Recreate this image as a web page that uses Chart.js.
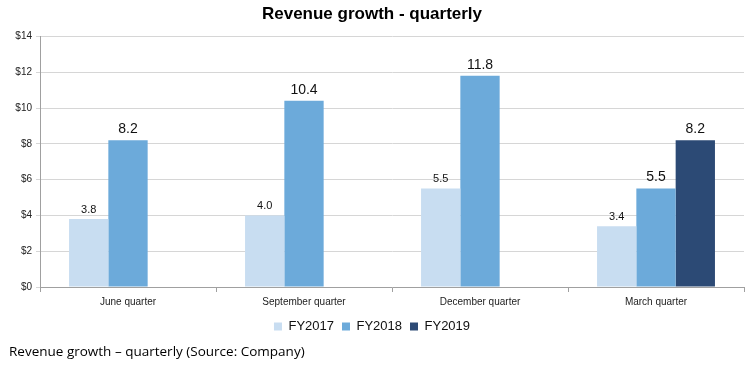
<!DOCTYPE html>
<html><head><meta charset="utf-8">
<script src="https://cdn.jsdelivr.net/npm/chart.js@4"></script>
<style>
html,body{margin:0;padding:0;background:#fff;width:747px;height:368px;overflow:hidden}
#wrap{position:absolute;left:0;top:0;width:747px;height:343px}
#cap{position:absolute;left:9px;top:342px;font-family:"Open Sans","Liberation Sans",sans-serif;font-size:13.5px;color:#000}
</style></head><body>
<div id="wrap"><canvas id="c"></canvas></div>
<div id="cap">Revenue growth – quarterly (Source: Company)</div>
<script>
const categories = ["June quarter","September quarter","December quarter","March quarter"];
const seriesNames = ["FY2017","FY2018","FY2019"];
const fy2017 = [3.8, 4.0, 5.5, 3.4];
const fy2018 = [8.2, 10.4, 11.8, 5.5];
const fy2019 = [null, null, null, 8.2];
const yTicks = [0,2,4,6,8,10,12,14];

const colors = ["#c8ddf1","#6caada","#2c4a75"];
const labelSizes = [11, 14, 14];

const valueLabels = {
  id:'valueLabels',
  afterDatasetsDraw(chart){
    const ctx = chart.ctx;
    chart.data.datasets.forEach((ds,i)=>{
      const meta = chart.getDatasetMeta(i);
      meta.data.forEach((el,j)=>{
        const v = ds.data[j];
        if(v==null) return;
        ctx.save();
        ctx.font = labelSizes[i]+'px "Liberation Sans", Arial, sans-serif';
        ctx.fillStyle = '#111';
        ctx.textAlign='center';
        ctx.textBaseline='bottom';
        ctx.fillText(v.toFixed(1), el.x, el.y-4);
        ctx.restore();
      });
    });
  }
};

new Chart(document.getElementById('c'),{
  type:'bar',
  data:{
    labels:categories,
    datasets:[
      {label:seriesNames[0],data:fy2017,backgroundColor:colors[0]},
      {label:seriesNames[1],data:fy2018,backgroundColor:colors[1]},
      {label:seriesNames[2],data:fy2019,backgroundColor:colors[2]}
    ]
  },
  options:{
    responsive:true,maintainAspectRatio:false,animation:false,
    layout:{padding:{left:0,right:3,top:0,bottom:0}},
    datasets:{bar:{categoryPercentage:0.67,barPercentage:1.0}},
    plugins:{
      title:{display:true,text:"Revenue growth - quarterly",color:'#000',
        font:{family:'"Liberation Sans", Arial, sans-serif',size:17,weight:'bold'},
        padding:{top:4,bottom:12}},
      legend:{position:'bottom',
        labels:{boxWidth:8,boxHeight:8,color:'#111',padding:8,
          font:{family:'"Liberation Sans", Arial, sans-serif',size:13}}},
      tooltip:{enabled:false}
    },
    scales:{
      x:{
        grid:{display:true,drawOnChartArea:false,offset:true,color:'#a0a0a0',tickLength:5},
        border:{color:'#a0a0a0'},
        ticks:{color:'#222',font:{family:'"Liberation Sans", Arial, sans-serif',size:10},padding:4}
      },
      y:{
        min:0,max:14,
        afterBuildTicks(s){s.ticks = yTicks.map(v=>({value:v}));},
        afterFit(s){s.width=40;},
        grid:{color:'#d6d6d6',tickLength:4,drawTicks:true},
        border:{color:'#a0a0a0'},
        ticks:{color:'#222',font:{family:'"Liberation Sans", Arial, sans-serif',size:10},
          callback:v=>'$'+v, padding:4}
      }
    }
  },
  plugins:[valueLabels]
});
</script>
</body></html>
